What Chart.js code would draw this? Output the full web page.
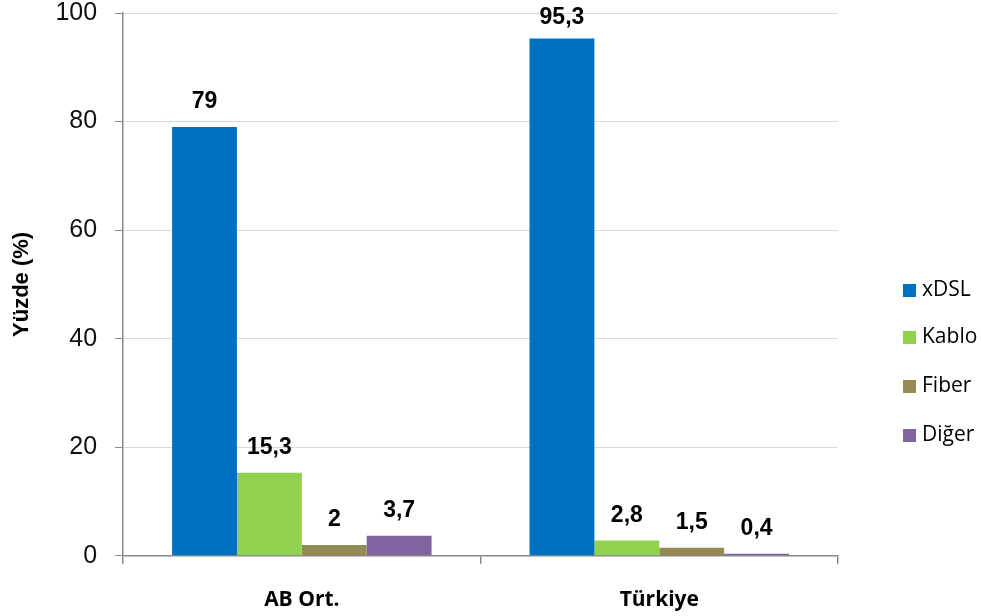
<!DOCTYPE html>
<html><head><meta charset="utf-8">
<script src="https://cdn.jsdelivr.net/npm/chart.js@4/dist/chart.umd.min.js"></script>
<style>html,body{margin:0;padding:0;background:#fff}#wrap{width:981px;height:616px}</style>
</head><body><div id="wrap"><canvas id="c" width="981" height="616"></canvas></div>
<script>
const categories = ["AB Ort.", "Türkiye"];
const seriesNames = ["xDSL", "Kablo", "Fiber", "Diğer"];
const xDSL = [79, 95.3];
const kablo = [15.3, 2.8];
const fiber = [2, 1.5];
const diger = [3.7, 0.4];
const colors = ["#0070C0", "#92D050", "#948A54", "#8064A2"];
const yTicks = [0, 20, 40, 60, 80, 100];

const seriesValues = [xDSL, kablo, fiber, diger];

const labelPlugin = {
  id: 'valueLabels',
  afterDatasetsDraw(chart) {
    const ctx = chart.ctx;
    ctx.save();
    ctx.font = 'bold 23px "Liberation Sans", Arial, sans-serif';
    ctx.fillStyle = '#000';
    ctx.textAlign = 'center';
    ctx.textBaseline = 'middle';
    chart.data.datasets.forEach((ds, i) => {
      chart.getDatasetMeta(i).data.forEach((bar, j) => {
        const v = ds.data[j];
        ctx.fillText(String(v).replace('.', ','), bar.x, Math.max(bar.y - 25, 18));
      });
    });
    ctx.restore();
  }
};

const legendPlugin = {
  id: 'customLegend',
  afterDraw(chart) {
    const ctx = chart.ctx;
    ctx.save();
    ctx.font = '21px "Open Sans", "Noto Sans", sans-serif';
    ctx.textBaseline = 'middle';
    ctx.textAlign = 'left';
    const x0 = 903, ys = [290, 337, 386, 435];
    seriesNames.forEach((n, i) => {
      ctx.fillStyle = colors[i];
      ctx.fillRect(x0, ys[i] - 6, 13, 13);
      ctx.fillStyle = '#000';
      ctx.fillText(n, x0 + 19, ys[i]);
    });
    ctx.restore();
  }
};

new Chart(document.getElementById('c'), {
  type: 'bar',
  data: {
    labels: categories,
    datasets: seriesNames.map((n, i) => ({
      label: n, data: seriesValues[i], backgroundColor: colors[i],
      borderWidth: 0, barPercentage: 1, categoryPercentage: 0.726
    }))
  },
  options: {
    responsive: false, animation: false,
    devicePixelRatio: 1,
    layout: { padding: { top: 0, right: 143, left: 0, bottom: 2 } },
    plugins: { legend: { display: false }, tooltip: { enabled: false } },
    scales: {
      x: {
        afterFit(scale) { scale.height = scale.height - 23; },
        grid: { offset: true, drawOnChartArea: false, color: '#888', tickLength: 8, lineWidth: 1.5 },
        border: { color: '#888', width: 1.5 },
        ticks: { color: '#000', font: { family: '"Open Sans", "Noto Sans", sans-serif', size: 21, weight: 'bold' }, padding: 24 }
      },
      y: {
        min: 0, max: 100,
        afterBuildTicks(axis) { axis.ticks = yTicks.map(v => ({ value: v })); },
        afterFit(scale) { scale.paddingTop = 13; scale.paddingBottom = 5; scale.width = scale.width - 18; },
        grid: { color: '#d9d9d9', tickLength: 8, tickColor: '#888' },
        border: { color: '#888', width: 1.5 },
        ticks: { color: '#111', font: { family: '"Liberation Sans", Arial, sans-serif', size: 25 }, padding: 18 },
        title: { display: true, text: 'Yüzde (%)', color: '#000', font: { family: '"Liberation Sans", Arial, sans-serif', size: 22, weight: 'bold' }, padding: { top: 9, bottom: 20 } }
      }
    }
  },
  plugins: [labelPlugin, legendPlugin]
});
</script></body></html>
